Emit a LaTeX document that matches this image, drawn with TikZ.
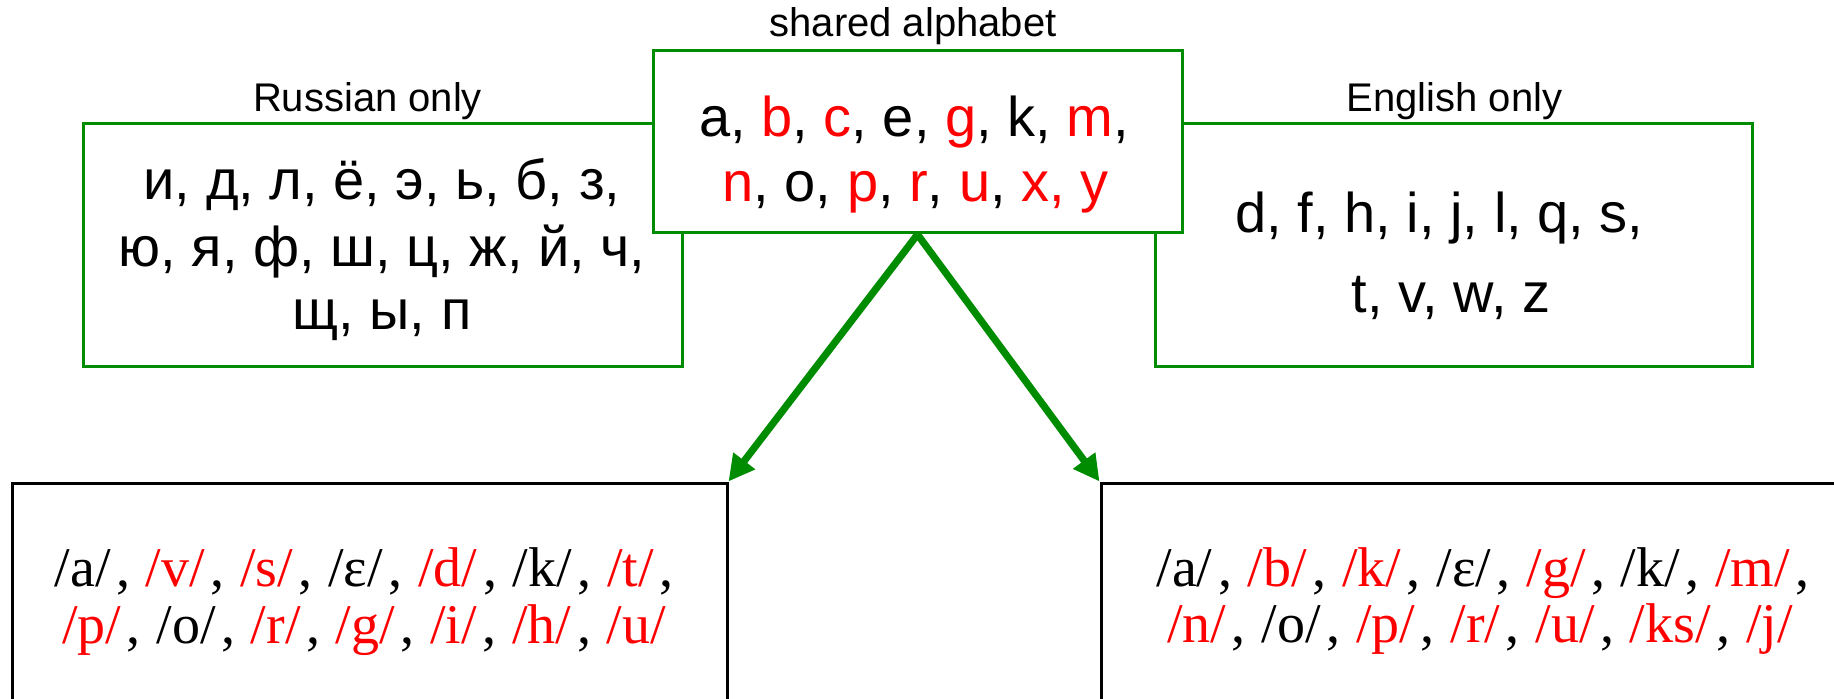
\documentclass[tikz,border=0pt]{standalone}
\usepackage{fontspec}
\setmainfont{Liberation Sans}
\newfontfamily\ipafont{Liberation Serif}
\usetikzlibrary{arrows.meta}
\definecolor{boxgreen}{RGB}{0,140,0}
\newcommand\redtxt[1]{\textcolor{red}{#1}}
\newcommand\ipasep{\kern0.1em,\hspace{0.28em}}
\newcommand\ipaend{\kern0.1em,}
\begin{document}
\begin{tikzpicture}[x=0.5pt,y=-0.5pt,
  gbox/.style={draw=boxgreen, line width=1.5pt, rectangle, inner sep=0pt, fill=white},
  kbox/.style={draw=black, line width=1.5pt, rectangle, inner sep=0pt, fill=white},
  lbltext/.style={font=\fontsize{20pt}{24pt}\selectfont, anchor=base, inner sep=0pt},
  bigtext/.style={font=\fontsize{28pt}{32pt}\selectfont, anchor=base, inner sep=0pt},
  ipatext/.style={font=\ipafont\fontsize{28pt}{32pt}\selectfont, anchor=base, inner sep=0pt},
  flow/.style={draw=boxgreen, line width=3.6pt, -{Triangle[length=13pt,width=13pt]}}
]
\useasboundingbox (0,0) rectangle (1834,699);
\begin{scope}
\clip (0,0) rectangle (1834,699);
\node[gbox, minimum width=299.5pt, minimum height=121.5pt] (rus) at (382.5,245.5) {};
\node[gbox, minimum width=298.5pt, minimum height=121.5pt] (eng) at (1453.5,245.5) {};
\node[gbox, minimum width=264.5pt, minimum height=91pt] (sh) at (917.5,142) {};
\node[kbox, minimum width=357.5pt, minimum height=138.5pt] (lb) at (369.5,621.5) {};
\node[kbox, minimum width=382pt, minimum height=138.5pt] (rb) at (1483,621.5) {};
\end{scope}
\draw[flow] (sh.south) -- (lb.north east);
\draw[flow] (sh.south) -- (rb.north west);

\node[lbltext] (shl) at (913,37) {shared alphabet};
\node[lbltext] (rusl) at (367.5,112) {Russian only};
\node[lbltext] (engl) at (1454.5,112) {English only};

\node[bigtext] (sh1) at (914,137) {a, \redtxt{b}, \redtxt{c}, e, \redtxt{g}, k, \redtxt{m},};
\node[bigtext] (sh2) at (915.5,202) {\redtxt{n}, o, \redtxt{p}, \redtxt{r}, \redtxt{u}, \redtxt{x, y}};

\node[bigtext] (ru1) at (382,200) {и, д, л, ё, э, ь, б, з,};
\node[bigtext] (ru2) at (382,267) {ю, я, ф, ш, ц, ж, й, ч,};
\node[bigtext] (ru3) at (382,330) {щ, ы, п};

\node[bigtext] (en1) at (1439.5,233) {d, f, h, i, j, l, q, s,};
\node[bigtext] (en2) at (1451,313) {t, v, w, z};

\node[ipatext] (ipl1) at (364,586) {/a/\ipasep\redtxt{/v/}\ipasep\redtxt{/s/}\ipasep/ε/\ipasep\redtxt{/d/}\ipasep/k/\ipasep\redtxt{/t/}\ipaend};
\node[ipatext] (ipl2) at (364,643) {\redtxt{/p/}\ipasep/o/\ipasep\redtxt{/r/}\ipasep\redtxt{/g/}\ipasep\redtxt{/i/}\ipasep\redtxt{/h/}\ipasep\redtxt{/u/}};

\node[ipatext] (ipr1) at (1483,586) {/a/\ipasep\redtxt{/b/}\ipasep\redtxt{/k/}\ipasep/ε/\ipasep\redtxt{/g/}\ipasep/k/\ipasep\redtxt{/m/}\ipaend};
\node[ipatext] (ipr2) at (1480,642) {\redtxt{/n/}\ipasep/o/\ipasep\redtxt{/p/}\ipasep\redtxt{/r/}\ipasep\redtxt{/u/}\ipasep\redtxt{/ks/}\ipasep\redtxt{/j/}};
\end{tikzpicture}
\end{document}
